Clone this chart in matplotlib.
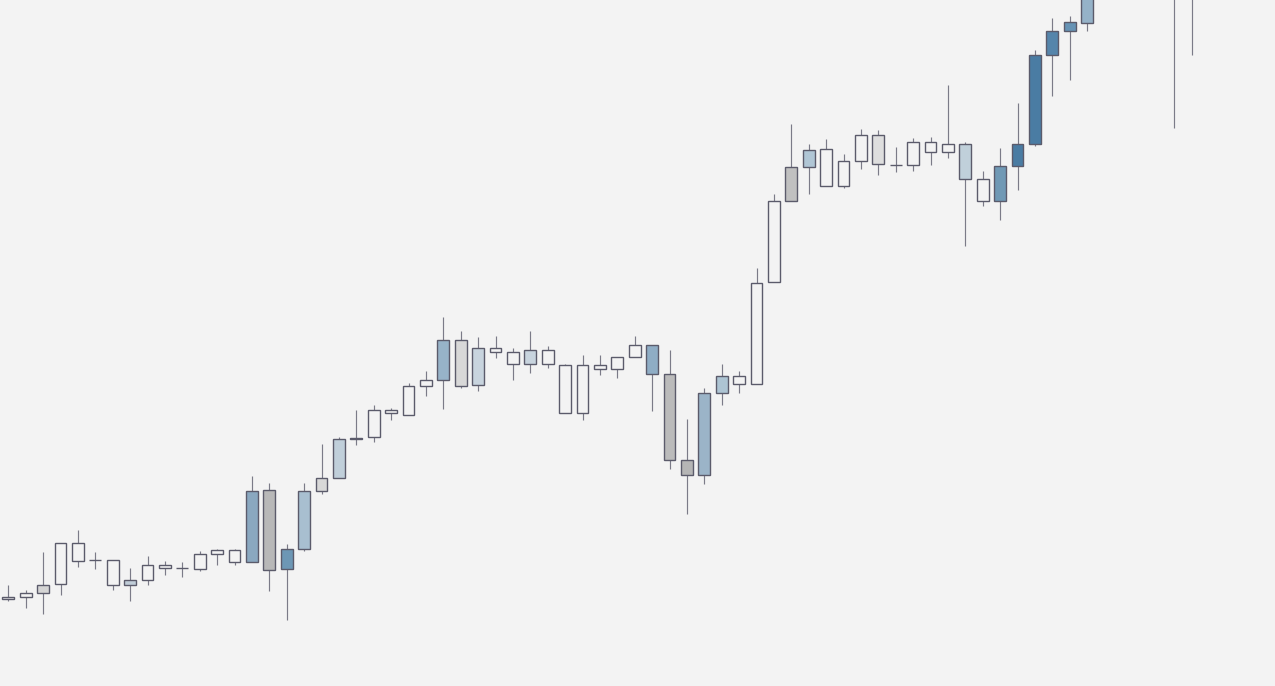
import numpy as np
import matplotlib
matplotlib.use("Agg")
import matplotlib.pyplot as plt
from matplotlib.patches import Rectangle

# candle values (price units, bottom of the chart = 0)
opens = [86.7, 88.7, 100.7, 101.7, 124.7, 126.0, 100.7, 105.7, 105.7, 117.7,
         117.7, 116.7, 131.7, 123.7, 194.7, 195.7, 136.7, 194.7, 207.7, 246.7,
         247.5, 248.7, 272.7, 270.7, 299.7, 345.7, 345.7, 337.7, 333.7, 321.7,
         335.7, 321.7, 272.7, 272.7, 316.7, 316.7, 328.7, 340.7, 311.7, 225.7,
         210.7, 292.7, 301.7, 301.7, 403.7, 518.7, 535.7, 499.7, 499.7, 524.7,
         550.7, 520.7, 520.7, 533.7, 533.7, 541.7, 484.7, 519.7, 541.7, 630.7,
         654.7, 663.7, 702.0, 705.0, 742.0, 770.0, 795.0, 862.0, 890.0]
closes = [88.7, 92.7, 92.7, 142.7, 142.7, 126.0, 125.7, 100.7, 120.7, 120.7,
          117.7, 131.7, 135.7, 135.7, 123.7, 115.7, 116.7, 136.7, 194.7, 207.7,
          248.5, 275.7, 275.7, 299.7, 305.7, 305.7, 299.7, 300.7, 337.7, 333.7,
          321.7, 335.7, 320.7, 320.7, 320.7, 328.7, 340.7, 311.7, 225.7, 210.7,
          292.7, 309.7, 309.7, 402.7, 484.7, 484.7, 518.7, 536.7, 524.7, 550.7,
          521.7, 520.7, 543.7, 543.7, 541.7, 506.7, 506.7, 484.7, 519.7, 541.7,
          630.7, 654.7, 662.7, 745.0, 775.0, 800.0, 830.0, 820.0, 860.0]
highs = [101.0, 96.0, 134.0, 142.7, 156.0, 134.0, 125.7, 118.0, 130.0, 125.0,
         124.0, 135.0, 137.0, 137.0, 210.0, 203.0, 142.0, 203.0, 242.0, 249.0,
         276.0, 281.0, 278.0, 303.0, 315.0, 369.0, 355.0, 349.0, 350.0, 338.0,
         355.0, 340.0, 322.0, 331.0, 331.0, 328.7, 350.0, 340.7, 336.0, 267.0,
         298.0, 322.0, 315.0, 418.0, 492.0, 562.0, 542.0, 547.0, 532.0, 557.0,
         556.0, 539.0, 548.0, 549.0, 601.0, 543.7, 515.0, 537.7, 583.0, 635.7,
         668.0, 670.0, 720.0, 760.0, 790.0, 815.0, 840.0, 880.0, 905.0]
lows = [85.3, 78.3, 72.3, 91.3, 119.3, 117.3, 96.3, 85.3, 101.3, 111.3,
        109.3, 115.3, 121.3, 121.3, 123.7, 95.3, 65.7, 135.3, 192.3, 207.7,
        241.3, 244.3, 266.3, 270.7, 290.3, 277.3, 298.3, 295.3, 328.3, 306.3,
        313.3, 318.3, 272.7, 266.3, 311.3, 308.3, 328.7, 275.3, 217.3, 172.3,
        202.3, 281.3, 293.3, 301.7, 403.7, 484.7, 492.3, 499.7, 498.3, 517.3,
        511.3, 514.3, 515.3, 521.3, 528.3, 440.3, 480.3, 466.3, 496.3, 540.3,
        590.3, 606.3, 655.3, 700.0, 730.0, 755.0, 785.0, 558.3, 631.3]

W = "#f3f3f3"
fills = [W, W, "#d5d5d5", W, W, W, W, "#c0cdd8", W, W,
         W, W, W, W, "#8aa8c0", "#b8b8b8", "#6d97b5", "#a8bfd0", "#d8d8d8", "#c0cfda",
         "#5b5b6b", W, W, W, W, "#97b3c8", "#d8d8d8", "#c8d4de", W, W,
         "#c8d4de", W, W, W, W, W, W, "#8fadc5", "#bbbbbb", "#b5b5b5",
         "#9bb4c8", "#adc4d3", W, W, W, "#c0c0c0", "#b0c6d5", W, W, W,
         "#dedede", W, W, W, W, "#c0d0da", W, "#7099b5", "#4a7ca3", "#4a7ca3",
         "#5585ab", "#6693b5", "#95b2c8", W, W, W, W, W, W]

bg = "#f3f3f3"
edge = "#5b5b6b"
wick = "#7b7b88"
width = 0.68

fig = plt.figure(figsize=(12.75, 6.86), dpi=100, facecolor=bg)
ax = fig.add_axes([0, 0, 1, 1])
ax.set_facecolor(bg)

for i in range(len(opens)):
    top = max(opens[i], closes[i])
    bot = min(opens[i], closes[i])
    ax.vlines(i, top, highs[i], color=wick, lw=0.85, zorder=1)
    ax.vlines(i, lows[i], bot, color=wick, lw=0.85, zorder=1)
    ax.add_patch(Rectangle((i - width / 2, bot), width, top - bot,
                           facecolor=fills[i], edgecolor=edge, lw=1.0, zorder=2))

ax.set_xlim(-0.48, -0.48 + 1275 / 17.4)
ax.set_ylim(0, 686)
ax.axis("off")

fig.savefig("out.png", dpi=100, facecolor=bg)
